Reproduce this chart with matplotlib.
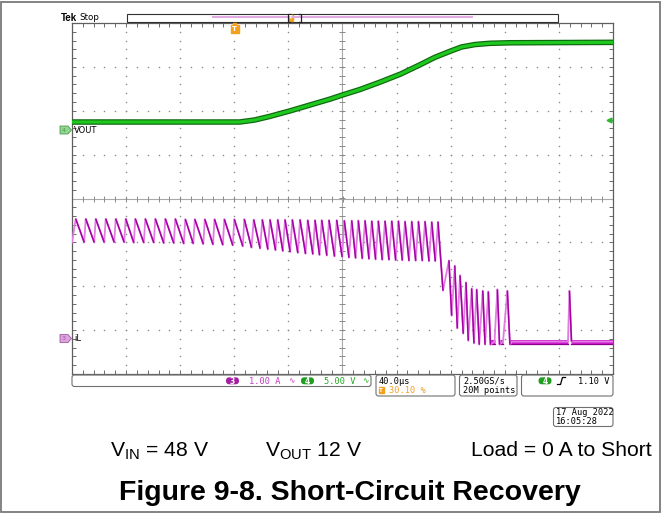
import numpy as np
import matplotlib.pyplot as plt
from matplotlib.patches import Polygon, FancyBboxPatch, Rectangle
from matplotlib.collections import LineCollection

plt.rcParams['mathtext.fontset'] = 'custom'
plt.rcParams['mathtext.rm'] = 'Liberation Sans'

# ---- data ----
# channel 4 : VOUT (5 V/div), time in us (40 us/div)
vout_t = [0, 60, 124, 135, 146, 161, 176, 191, 200, 213, 228, 243, 257, 268, 280, 288, 298, 309, 324, 400]
vout_v = [0.91, 0.91, 0.91, 1.14, 1.54, 2.17, 2.85, 3.53, 3.99, 4.62, 5.47, 6.38, 7.41, 8.26,
          9.00, 9.46, 9.74, 9.88, 9.94, 9.99]

# channel 3 : iL (1 A/div), valley / peak vertices of the ripple
il_t = [0.0, 2.74, 9.03, 10.13, 16.42, 17.52, 23.82, 24.92, 31.21, 32.31, 38.60, 39.70,
        45.70, 46.80, 53.10, 54.20, 60.49, 61.59, 67.88, 68.98, 75.28, 76.38, 82.67, 83.77,
        89.69, 90.79, 97.09, 98.19, 104.26, 105.36, 111.51, 112.61, 118.90, 120.00, 126.29, 127.39,
        132.74, 134.34, 139.10, 140.70, 144.79, 146.39, 150.49, 152.09, 155.89, 157.49,
        161.28, 162.88, 166.98, 168.58, 172.67, 174.27, 178.07, 179.67, 183.02, 184.62,
        188.42, 190.02, 194.11, 195.71, 199.73, 201.33,
        204.80, 206.80, 209.68, 211.68, 214.64, 216.64, 219.59, 221.59, 224.47, 226.47,
        229.42, 231.42, 234.38, 236.38, 239.33, 241.33, 244.21, 246.21, 249.16, 251.16,
        254.12, 256.12, 259.00, 261.00, 263.95, 265.95, 268.61, 270.61,
        274.3, 278.7, 280.7, 283.0, 284.9, 286.9, 289.3, 291.3, 293.0, 295.5, 297.2, 299.2,
        301.1, 303.7, 305.4, 307.8, 309.4, 312.4, 314.5, 316.1, 318.7, 321.9, 323.8, 325.3,
        366.7, 367.8, 369.3, 400.0]
il_a = [2.19, 2.73, 2.19, 2.73, 2.19, 2.73, 2.19, 2.73, 2.19, 2.73, 2.19, 2.73,
        2.18, 2.73, 2.18, 2.73, 2.18, 2.73, 2.17, 2.73, 2.17, 2.73, 2.16, 2.72,
        2.16, 2.72, 2.15, 2.72, 2.14, 2.72, 2.13, 2.72, 2.12, 2.72, 2.10, 2.72,
        2.07, 2.71, 2.05, 2.71, 2.03, 2.71, 2.01, 2.71, 1.99, 2.71,
        1.97, 2.71, 1.95, 2.71, 1.93, 2.70, 1.92, 2.70, 1.90, 2.70,
        1.89, 2.70, 1.87, 2.70, 1.86, 2.69,
        1.84, 2.69, 1.83, 2.69, 1.82, 2.69, 1.81, 2.68, 1.80, 2.68,
        1.79, 2.68, 1.79, 2.68, 1.78, 2.68, 1.78, 2.67, 1.77, 2.67,
        1.77, 2.67, 1.77, 2.67, 1.76, 2.66, 1.76, 2.66,
        1.09, 1.78, 0.52, 1.66, 0.23, 1.44, 0.11, 1.28, -0.05, 1.14, -0.11, 1.12,
        -0.14, 1.09, -0.14, 1.07, -0.14, -0.07, 1.12, -0.14, -0.07, 1.09, -0.14, -0.07,
        -0.07, 1.09, -0.07, -0.07]
# flat (zero current) stretches of iL
il_flat_start = [309.4, 316.1, 323.8, 369.3]
il_flat_end = [312.4, 318.7, 366.7, 400.0]
il_flat_level = -0.07

trig_level = 1.10      # V, on channel 4
trig_pos = 30.10       # % of record

ch3_label = '1.00 A'
ch4_label = '5.00 V'
timebase = '40.0\u00b5s'
rate_lines = ['2.50GS/s', '20M points']
date_lines = ['17 Aug 2022', '16:05:28']
cond_texts = [r'V$_\mathrm{IN}$ = 48 V', r'V$_\mathrm{OUT}$ 12 V', 'Load = 0 A to Short']
title = 'Figure 9-8. Short-Circuit Recovery'

# ---- layout (pixels) ----
W, H = 661, 513
L, R, T, B = 72, 613, 23, 374          # graticule box
def box(x0, y0, x1, y1):
    return [x0 / W, 1 - y1 / H, (x1 - x0) / W, (y1 - y0) / H]

fig = plt.figure(figsize=(W / 100, H / 100), dpi=100)
fig.patch.set_facecolor('white')

# graticule, in divisions
ax_g = fig.add_axes(box(L, T, R, B))
ax_g.set_xlim(-5, 5)
ax_g.set_ylim(-4, 4)
for s in ax_g.spines.values():
    s.set_color('#5f5f5f')
    s.set_linewidth(0.9)
ax_g.set_xticks(np.arange(-5, 5.01, 1))
ax_g.set_yticks(np.arange(-4, 4.01, 1))
ax_g.set_xticks(np.arange(-5, 5.01, 0.2), minor=True)
ax_g.set_yticks(np.arange(-4, 4.01, 0.2), minor=True)
ax_g.tick_params(which='both', direction='in', length=2.6, width=0.7, color='#6a6a6a',
                 top=True, right=True, labelbottom=False, labelleft=False)

# dotted grid lines
xs = np.arange(-5, 5.01, 0.2)
ys = np.arange(-4, 4.01, 0.2)
for gy in [-3, -2, -1, 1, 2, 3]:
    ax_g.plot(xs, np.full_like(xs, gy), ls='none', marker='o', ms=1.1, mew=0, color='#8a8a8a')
for gx in [-4, -3, -2, -1, 1, 2, 3, 4]:
    ax_g.plot(np.full_like(ys, gx), ys, ls='none', marker='o', ms=1.1, mew=0, color='#8a8a8a')
# centre cross with ticks
ax_g.axhline(0, color='#a8a8a8', lw=0.8)
ax_g.axvline(0, color='#a8a8a8', lw=0.8)
ax_g.plot(xs, np.zeros_like(xs), ls='none', marker='|', ms=4, mew=0.7, color='#8a8a8a')
ax_g.plot(np.zeros_like(ys), ys, ls='none', marker='_', ms=4, mew=0.7, color='#8a8a8a')

# channel 4 axes (ground marker at y=130 px)
v_per_div = 5.0
v_off = (B - 130) / ((B - T) / 8)
ax_v = fig.add_axes(box(L, T, R, B))
ax_v.set_xlim(0, 400)
ax_v.set_ylim(-v_off * v_per_div, (8 - v_off) * v_per_div)
ax_v.axis('off')
ax_v.plot(vout_t, vout_v, color='#0f660f', lw=4.0, solid_capstyle='butt', solid_joinstyle='round')
ax_v.plot(vout_t, vout_v, color='#1ec81e', lw=2.3, solid_capstyle='butt', solid_joinstyle='round')
ax_v.plot([397], [trig_level], marker='<', ms=3.5, color='#2fb52f', clip_on=False)

# channel 3 axes (ground marker at y=338.5 px)
a_per_div = 1.0
a_off = (B - 338.5) / ((B - T) / 8)
ax_i = fig.add_axes(box(L, T, R, B))
ax_i.set_xlim(0, 400)
ax_i.set_ylim(-a_off * a_per_div, (8 - a_off) * a_per_div)
ax_i.axis('off')
for t0, t1 in zip(il_flat_start, il_flat_end):
    ax_i.plot([t0, t1], [il_flat_level, il_flat_level], color='#d21ed2', lw=3.6,
              solid_capstyle='butt')
    ax_i.plot([t0, t1], [il_flat_level - 0.06, il_flat_level - 0.06], color='#8c008c', lw=0.9)
ax_i.plot(il_t, il_a, color='#e17ce1', lw=1.3)
segs = [[(il_t[k], il_a[k]), (il_t[k + 1], il_a[k + 1])]
        for k in range(len(il_t) - 1) if il_a[k + 1] < il_a[k]]
ax_i.add_collection(LineCollection(segs, colors='#a400a4', linewidths=1.1))

# ---- overlay in pixel coordinates for the scope annotations ----
ov = fig.add_axes([0, 0, 1, 1])
ov.set_xlim(0, W)
ov.set_ylim(H, 0)
ov.axis('off')
ov.patch.set_alpha(0)

# outer frame of the figure
ov.add_patch(Rectangle((1, 1.5), W - 2.5, H - 3, fill=False, ec='#7a7a7a', lw=1.3))

mono = 'DejaVu Sans Mono'
ov.text(61, 17.8, 'Tek', fontsize=7, family='Liberation Sans', fontweight='bold',
        va='center', ha='left')
ov.text(79, 17.5, 'Stop', fontsize=6.3, va='center', ha='left')

# record view bar
ov.add_patch(Rectangle((127, 13.5), 431, 8.3, fill=False, ec='#303030', lw=0.8))
ov.plot([213, 472], [16.8, 16.8], color='#e2a6e2', lw=1.4)
ov.plot([289.5, 287.5, 287.5, 289.5], [13.5, 13.5, 21.8, 21.8], color='#202020', lw=0.9)
ov.plot([299, 301, 301, 299], [13.5, 13.5, 21.8, 21.8], color='#202020', lw=0.9)
ov.add_patch(Rectangle((288.8, 14.5), 4.6, 6.2, color='#f2a01e'))
ov.text(291.1, 17.8, 'T', fontsize=4, color='white', fontweight='bold', ha='center', va='center')

# trigger position marker
tx = L + (R - L) * trig_pos / 100
ov.add_patch(Polygon([(tx - 1.5, 22.5), (tx + 1.5, 22.5), (tx + 1.5, 25), (tx + 4, 25),
                      (tx + 4, 33), (tx - 4, 33), (tx - 4, 25), (tx - 1.5, 25)],
                     closed=True, color='#f2a01e'))
ov.text(tx, 29.3, 'T', fontsize=5, color='white', fontweight='bold', ha='center', va='center')

# channel ground markers
def ch_marker(yc, face, edge, num, label):
    ov.add_patch(Polygon([(60, yc - 4), (68, yc - 4), (71.5, yc), (68, yc + 4), (60, yc + 4)],
                         closed=True, fc=face, ec=edge, lw=0.6))
    ov.text(64, yc + 0.3, num, fontsize=4.5, color=edge, ha='center', va='center')
    ov.text(74, yc + 0.3, label, fontsize=6, ha='left', va='center')

ch_marker(130, '#92d492', '#4e9e4e', '4', 'VOUT')
ch_marker(338.5, '#dca4dc', '#a055a0', '3', 'iL')

# status boxes
def sbox(x0, y0, x1, y1):
    ov.add_patch(FancyBboxPatch((x0, y0), x1 - x0, y1 - y0, boxstyle='round,pad=0,rounding_size=2.5',
                                fill=False, ec='#707070', lw=0.8))

def badge(xc, yc, face, num):
    ov.add_patch(FancyBboxPatch((xc - 6.5, yc - 3.5), 13, 7,
                                boxstyle='round,pad=0,rounding_size=3.5', fc=face, ec='none'))
    ov.text(xc, yc + 0.2, num, fontsize=5.5, color='white', fontweight='bold',
            ha='center', va='center')

sbox(72, 375, 371, 386.5)
badge(232.5, 380.8, '#a21ea2', '3')
ov.text(249, 381, ch3_label, fontsize=6.2, family=mono, color='#c23bc2', ha='left', va='center')
ov.text(291, 380.5, '\u223f', fontsize=5.5, color='#c23bc2', ha='center', va='center')
badge(307.5, 380.8, '#1f9e1f', '4')
ov.text(324, 381, ch4_label, fontsize=6.2, family=mono, color='#24a824', ha='left', va='center')
ov.text(365.5, 380.5, '\u223f', fontsize=5.5, color='#24a824', ha='center', va='center')

sbox(376, 375, 455, 396)
ov.text(379, 381, timebase, fontsize=6.2, family=mono, ha='left', va='center')
ov.add_patch(Rectangle((378.5, 387), 5.5, 6, color='#f2a01e'))
ov.text(381.2, 390.2, 'T', fontsize=4, color='white', fontweight='bold', ha='center', va='center')
ov.text(389, 390.3, '%.2f %%' % trig_pos, fontsize=6.2, family=mono, color='#f0a030',
        ha='left', va='center')

sbox(459.5, 375, 517, 396)
ov.text(463, 381, rate_lines[0], fontsize=6.2, family=mono, ha='left', va='center')
ov.text(463, 390.3, rate_lines[1], fontsize=6.2, family=mono, ha='left', va='center')

sbox(521.5, 375, 613, 396)
badge(545, 380.8, '#1f9e1f', '4')
ov.plot([557.5, 560.5, 562.5, 565.5], [384.5, 384.5, 377.5, 377.5], color='black', lw=0.9)
ov.text(610, 381, '%.2f V' % trig_level, fontsize=6.2, family=mono, ha='right', va='center')

sbox(553.5, 407.5, 613, 426.5)
ov.text(556, 412.8, date_lines[0], fontsize=6.2, family=mono, ha='left', va='center')
ov.text(556, 421.8, date_lines[1], fontsize=6.2, family=mono, ha='left', va='center')

# test conditions and caption
ov.text(110, 451, cond_texts[0], fontsize=15.2, family='Liberation Sans', ha='left', va='center')
ov.text(265, 451, cond_texts[1], fontsize=15.2, family='Liberation Sans', ha='left', va='center')
ov.text(652, 451, cond_texts[2], fontsize=15.2, family='Liberation Sans', ha='right', va='center')
ov.text(350, 493, title, fontsize=20.5, family='Liberation Sans', fontweight='bold',
        ha='center', va='center')

fig.savefig('out.png', dpi=100)
